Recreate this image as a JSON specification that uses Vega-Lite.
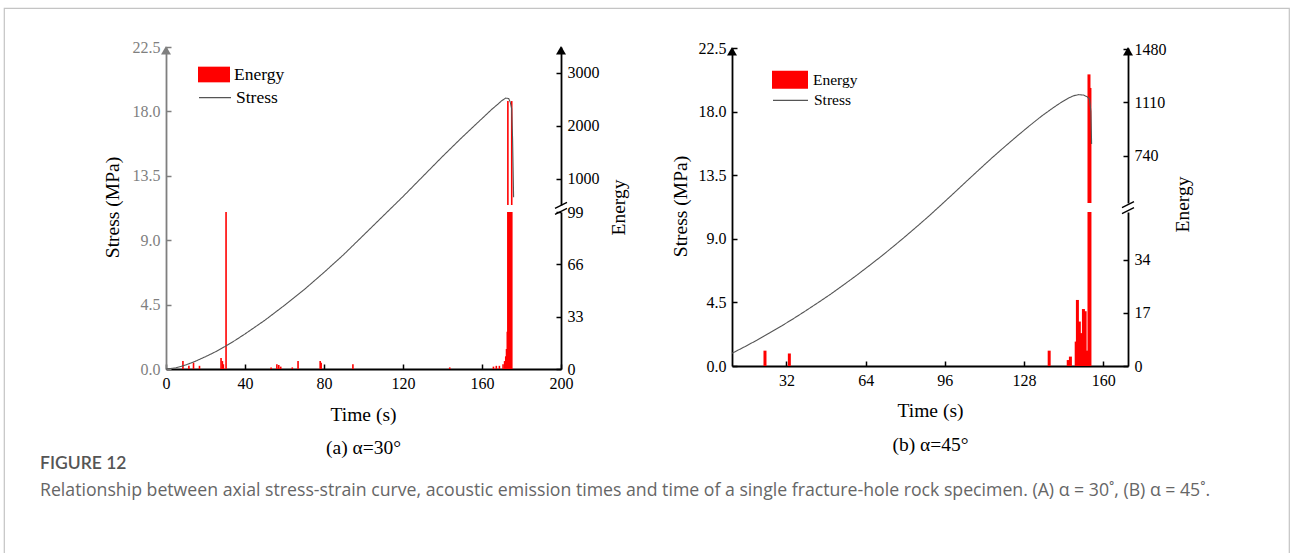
{
  "$schema": "https://vega.github.io/schema/vega-lite/v6.json",
  "width": 1285,
  "height": 546,
  "autosize": "none",
  "padding": {"left": 4, "top": 8, "right": 1, "bottom": 0},
  "background": "white",
  "config": {
    "view": {"stroke": "#c4c4c4", "strokeWidth": 1.2},
    "font": "Liberation Serif",
    "axis": {
      "grid": false, "labelFlush": false, "labelOverlap": false,
      "labelFont": "Liberation Serif", "labelFontSize": 16, "labelColor": "black",
      "titleFont": "Liberation Serif", "titleFontSize": 19.5, "titleFontWeight": "normal", "titleColor": "black",
      "domainColor": "black", "domainWidth": 1.8, "tickColor": "black", "tickWidth": 1.5, "tickSize": -5,
      "labelPadding": 11
    },
    "legend": {"labelFont": "Liberation Serif", "labelColor": "black", "padding": 0, "titlePadding": 0},
    "title": {"font": "Lato", "fontSize": 17.5, "fontWeight": 600, "color": "#555555", "subtitleFont": "Open Sans", "subtitleFontSize": 17.7, "subtitleColor": "#666666", "subtitlePadding": 9}
  },
  "title": {
    "text": "FIGURE 12",
    "subtitle": "Relationship between axial stress-strain curve, acoustic emission times and time of a single fracture-hole rock specimen. (A) α = 30˚, (B) α = 45˚.",
    "orient": "bottom", "anchor": "start", "frame": "group", "offset": -99, "dx": 36
  },
  "datasets": {
    "stressA": [
      {"t": 0, "s": 0}, {"t": 5, "s": 0.08}, {"t": 10, "s": 0.28}, {"t": 15, "s": 0.55}, {"t": 20, "s": 0.86},
      {"t": 25, "s": 1.2}, {"t": 30, "s": 1.58}, {"t": 35, "s": 2.0}, {"t": 40, "s": 2.45}, {"t": 50, "s": 3.4},
      {"t": 60, "s": 4.45}, {"t": 70, "s": 5.55}, {"t": 80, "s": 6.75}, {"t": 90, "s": 8.0}, {"t": 100, "s": 9.35},
      {"t": 110, "s": 10.7}, {"t": 120, "s": 12.05}, {"t": 130, "s": 13.45}, {"t": 140, "s": 14.85}, {"t": 150, "s": 16.2},
      {"t": 160, "s": 17.5}, {"t": 165, "s": 18.15}, {"t": 168, "s": 18.5}, {"t": 170, "s": 18.75}, {"t": 172, "s": 18.93},
      {"t": 173.5, "s": 18.9}, {"t": 174.3, "s": 18.65}, {"t": 175, "s": 18.2}, {"t": 175.5, "s": 16.0}, {"t": 176, "s": 12.0}
    ],
    "energyA": [
      {"t": 6.2, "e": 5}, {"t": 9.3, "e": 2}, {"t": 11.7, "e": 4}, {"t": 14.8, "e": 2}, {"t": 26, "e": 7},
      {"t": 26.7, "e": 5}, {"t": 27.2, "e": 3}, {"t": 28.6, "e": 150}, {"t": 52, "e": 1}, {"t": 55, "e": 3},
      {"t": 56, "e": 2.5}, {"t": 57, "e": 1.5}, {"t": 63, "e": 1}, {"t": 66, "e": 5}, {"t": 77.5, "e": 5},
      {"t": 78, "e": 4}, {"t": 94.5, "e": 3}, {"t": 144.8, "e": 1}, {"t": 167.5, "e": 1.5}, {"t": 169, "e": 2},
      {"t": 170.6, "e": 2}, {"t": 172.5, "e": 3}, {"t": 173.3, "e": 5}, {"t": 173.9, "e": 8}, {"t": 174.3, "e": 12.6},
      {"t": 174.7, "e": 23.5}, {"t": 175.0, "e": 2470}, {"t": 175.3, "e": 300}, {"t": 175.6, "e": 300}, {"t": 175.9, "e": 300},
      {"t": 176.2, "e": 300}, {"t": 176.5, "e": 300}, {"t": 176.8, "e": 300}, {"t": 177.0, "e": 2470}
    ],
    "stressB": [
      {"t": 10, "s": 0.9}, {"t": 15, "s": 1.35}, {"t": 20, "s": 1.82}, {"t": 25, "s": 2.32}, {"t": 30, "s": 2.83},
      {"t": 35, "s": 3.37}, {"t": 40, "s": 3.93}, {"t": 45, "s": 4.51}, {"t": 50, "s": 5.1}, {"t": 55, "s": 5.73},
      {"t": 60, "s": 6.37}, {"t": 65, "s": 7.04}, {"t": 70, "s": 7.72}, {"t": 75, "s": 8.43}, {"t": 80, "s": 9.16},
      {"t": 85, "s": 9.91}, {"t": 90, "s": 10.68}, {"t": 95, "s": 11.48}, {"t": 100, "s": 12.29}, {"t": 105, "s": 13.11},
      {"t": 110, "s": 13.92}, {"t": 115, "s": 14.72}, {"t": 120, "s": 15.49}, {"t": 125, "s": 16.24}, {"t": 130, "s": 16.97},
      {"t": 135, "s": 17.67}, {"t": 140, "s": 18.3}, {"t": 143, "s": 18.65}, {"t": 146, "s": 18.96}, {"t": 148, "s": 19.12},
      {"t": 150, "s": 19.2}, {"t": 152, "s": 19.17}, {"t": 153.5, "s": 19.05}, {"t": 154.5, "s": 18.85}, {"t": 155, "s": 18.0},
      {"t": 155.3, "s": 15.7}
    ],
    "energyB": [
      {"t": 21.6, "e": 4.9}, {"t": 31.7, "e": 4.0}, {"t": 139.4, "e": 4.9}, {"t": 147.3, "e": 1.9}, {"t": 148.2, "e": 3.0},
      {"t": 150.6, "e": 7.8}, {"t": 151.1, "e": 21.1}, {"t": 151.9, "e": 14.2}, {"t": 152.4, "e": 10.5}, {"t": 152.9, "e": 9.9},
      {"t": 153.6, "e": 18.2}, {"t": 154.3, "e": 17.5}, {"t": 155.2, "e": 4.9}, {"t": 155.9, "e": 1304}, {"t": 156.3, "e": 1210}
    ]
  },
  "layer": [
    {
      "data": {"name": "energyA"},
      "mark": {"type": "bar", "width": 1.6},
      "encoding": {
        "x": {"field": "t", "type": "quantitative", "scale": {"domain": [0, 200], "range": [162, 557], "nice": false, "zero": false}, "axis": null},
        "y": {"field": "e", "type": "quantitative", "scale": {"domain": [0, 99], "range": [361, 204], "clamp": true, "nice": false, "zero": false},
          "axis": {"orient": "right", "offset": -728, "values": [0, 33, 66, 99], "format": "d", "title": "Energy", "titleAngle": 270, "titleX": 57, "titleY": 199, "titleAlign": "center", "titleBaseline": "middle"}},
        "y2": {"datum": 0},
        "color": {"datum": "Energy", "type": "nominal", "scale": {"domain": ["Energy"], "range": ["#ff0000"]},
          "legend": {"orient": "none", "legendX": 194, "legendY": 50.5, "title": null, "symbolType": "M-1,-0.49H1V0.49H-1Z", "symbolSize": 1024, "symbolStrokeWidth": 0, "labelFontSize": 17.5, "labelOffset": 4}}
      }
    },
    {
      "data": {"name": "energyA"},
      "mark": {"type": "bar", "width": 1.6, "color": "#ff0000"},
      "encoding": {
        "x": {"field": "t", "type": "quantitative", "scale": {"domain": [0, 200], "range": [162, 557], "nice": false, "zero": false}, "axis": null},
        "y": {"field": "e", "type": "quantitative", "scale": {"domain": [509, 3490], "range": [197, 39], "clamp": true, "nice": false, "zero": false},
          "axis": {"orient": "right", "offset": -728, "values": [1000, 2000, 3000], "format": "d", "title": null}},
        "y2": {"datum": 0}
      }
    },
    {
      "data": {"name": "stressA"},
      "mark": {"type": "line", "color": "#555555", "strokeWidth": 1.1},
      "encoding": {
        "x": {"field": "t", "type": "quantitative", "scale": {"domain": [0, 200], "range": [162, 557], "nice": false, "zero": false},
          "axis": {"orient": "bottom", "offset": -185, "values": [0, 40, 80, 120, 160, 200], "title": ["Time (s)", "(a) α=30°"], "titleLineHeight": 33, "titleX": 359, "titleY": 51, "titleAlign": "center", "titleBaseline": "alphabetic"}},
        "y": {"field": "s", "type": "quantitative", "scale": {"domain": [0, 22.5], "range": [361, 39], "nice": false, "zero": false},
          "axis": {"orient": "left", "offset": -162, "values": [0, 4.5, 9, 13.5, 18, 22.5], "format": ".1f", "title": "Stress (MPa)", "titleAngle": 270, "titleX": -54, "titleY": 199, "titleAlign": "center", "titleBaseline": "middle", "domainColor": "#7f7f7f", "tickColor": "#7f7f7f", "labelColor": "#7f7f7f"}},
        "strokeDash": {"datum": "Stress", "type": "nominal", "scale": {"domain": ["Stress"], "range": [[1, 0]]},
          "legend": {"orient": "none", "legendX": 194, "legendY": 72.7, "title": null, "symbolType": "stroke", "symbolSize": 1024, "symbolStrokeColor": "#555555", "symbolStrokeWidth": 1.2, "labelFontSize": 17.5, "labelOffset": 4}}
      }
    },
    {
      "data": {"values": [{}]},
      "mark": {"type": "point", "filled": true, "shape": "M0,-0.2L1,1.5L-1,1.5Z", "size": 100, "color": "#7f7f7f", "opacity": 1},
      "encoding": {
        "x": {"datum": 0, "type": "quantitative", "scale": {"domain": [0, 200], "range": [162, 557], "nice": false, "zero": false}, "axis": null},
        "y": {"datum": 22.5, "type": "quantitative", "scale": {"domain": [0, 22.5], "range": [361, 39], "nice": false, "zero": false}, "axis": null}
      }
    },
    {
      "data": {"values": [{}]},
      "mark": {"type": "point", "filled": true, "shape": "M0,-0.2L1,1.5L-1,1.5Z", "size": 100, "color": "black", "opacity": 1},
      "encoding": {
        "x": {"datum": 200, "type": "quantitative", "scale": {"domain": [0, 200], "range": [162, 557], "nice": false, "zero": false}, "axis": null},
        "y": {"datum": 22.5, "type": "quantitative", "scale": {"domain": [0, 22.5], "range": [361, 39], "nice": false, "zero": false}, "axis": null}
      }
    },
    {
      "data": {"values": [{}]},
      "mark": {"type": "point", "filled": false, "shape": "M-1,0L1,-1M-1,1L1,0", "size": 144, "color": "black", "strokeWidth": 1.4, "opacity": 1},
      "encoding": {
        "x": {"datum": 200, "type": "quantitative", "scale": {"domain": [0, 200], "range": [162, 557], "nice": false, "zero": false}, "axis": null},
        "y": {"datum": 11.23, "type": "quantitative", "scale": {"domain": [0, 22.5], "range": [361, 39], "nice": false, "zero": false}, "axis": null}
      }
    },
    {
      "data": {"name": "energyB"},
      "mark": {"type": "bar", "width": 3},
      "encoding": {
        "x": {"field": "t", "type": "quantitative", "scale": {"domain": [10, 170], "range": [728, 1124], "nice": false, "zero": false}, "axis": null},
        "y": {"field": "e", "type": "quantitative", "scale": {"domain": [0, 49.2], "range": [358, 204], "clamp": true, "nice": false, "zero": false},
          "axis": {"orient": "right", "offset": -161, "values": [0, 17, 34], "format": "d", "title": "Energy", "titleAngle": 270, "titleX": 54, "titleY": 196, "titleAlign": "center", "titleBaseline": "middle"}},
        "y2": {"datum": 0},
        "color": {"datum": "Energy", "type": "nominal", "scale": {"domain": ["Energy"], "range": ["#ff0000"]},
          "legend": {"orient": "none", "legendX": 768, "legendY": 53.7, "title": null, "symbolType": "M-1,-0.5H1V0.5H-1Z", "symbolSize": 1296, "symbolStrokeWidth": 0, "labelFontSize": 15.5, "labelOffset": 5}}
      }
    },
    {
      "data": {"name": "energyB"},
      "mark": {"type": "bar", "width": 3, "color": "#ff0000"},
      "encoding": {
        "x": {"field": "t", "type": "quantitative", "scale": {"domain": [10, 170], "range": [728, 1124], "nice": false, "zero": false}, "axis": null},
        "y": {"field": "e", "type": "quantitative", "scale": {"domain": [412, 1487], "range": [195, 40], "clamp": true, "nice": false, "zero": false},
          "axis": {"orient": "right", "offset": -161, "values": [740, 1110, 1480], "format": "d", "title": null}},
        "y2": {"datum": 0}
      }
    },
    {
      "data": {"name": "stressB"},
      "mark": {"type": "line", "color": "#555555", "strokeWidth": 1.1},
      "encoding": {
        "x": {"field": "t", "type": "quantitative", "scale": {"domain": [10, 170], "range": [728, 1124], "nice": false, "zero": false},
          "axis": {"orient": "bottom", "offset": -188, "values": [32, 64, 96, 128, 160], "title": ["Time (s)", "(b) α=45°"], "titleLineHeight": 34, "titleX": 926, "titleY": 50, "titleAlign": "center", "titleBaseline": "alphabetic"}},
        "y": {"field": "s", "type": "quantitative", "scale": {"domain": [0, 22.5], "range": [358, 40], "nice": false, "zero": false},
          "axis": {"orient": "left", "offset": -728, "values": [0, 4.5, 9, 13.5, 18, 22.5], "format": ".1f", "title": "Stress (MPa)", "titleAngle": 270, "titleX": -52, "titleY": 198, "titleAlign": "center", "titleBaseline": "middle"}},
        "strokeDash": {"datum": "Stress", "type": "nominal", "scale": {"domain": ["Stress"], "range": [[1, 0]]},
          "legend": {"orient": "none", "legendX": 768, "legendY": 73.8, "title": null, "symbolType": "stroke", "symbolSize": 1225, "symbolStrokeColor": "#555555", "symbolStrokeWidth": 1.2, "labelFontSize": 15.5, "labelOffset": 5}}
      }
    },
    {
      "data": {"values": [{}]},
      "mark": {"type": "point", "filled": true, "shape": "M0,-0.2L1,1.5L-1,1.5Z", "size": 100, "color": "black", "opacity": 1},
      "encoding": {
        "x": {"datum": 10, "type": "quantitative", "scale": {"domain": [10, 170], "range": [728, 1124], "nice": false, "zero": false}, "axis": null},
        "y": {"datum": 22.5, "type": "quantitative", "scale": {"domain": [0, 22.5], "range": [358, 40], "nice": false, "zero": false}, "axis": null}
      }
    },
    {
      "data": {"values": [{}]},
      "mark": {"type": "point", "filled": true, "shape": "M0,-0.2L1,1.5L-1,1.5Z", "size": 100, "color": "black", "opacity": 1},
      "encoding": {
        "x": {"datum": 170, "type": "quantitative", "scale": {"domain": [10, 170], "range": [728, 1124], "nice": false, "zero": false}, "axis": null},
        "y": {"datum": 22.5, "type": "quantitative", "scale": {"domain": [0, 22.5], "range": [358, 40], "nice": false, "zero": false}, "axis": null}
      }
    },
    {
      "data": {"values": [{}]},
      "mark": {"type": "point", "filled": false, "shape": "M-1,0L1,-1M-1,1L1,0", "size": 144, "color": "black", "strokeWidth": 1.4, "opacity": 1},
      "encoding": {
        "x": {"datum": 170, "type": "quantitative", "scale": {"domain": [10, 170], "range": [728, 1124], "nice": false, "zero": false}, "axis": null},
        "y": {"datum": 11.21, "type": "quantitative", "scale": {"domain": [0, 22.5], "range": [358, 40], "nice": false, "zero": false}, "axis": null}
      }
    }
  ],
  "resolve": {
    "scale": {"x": "independent", "y": "independent", "color": "independent", "strokeDash": "independent"},
    "axis": {"x": "independent", "y": "independent"},
    "legend": {"color": "independent", "strokeDash": "independent"}
  }
}
